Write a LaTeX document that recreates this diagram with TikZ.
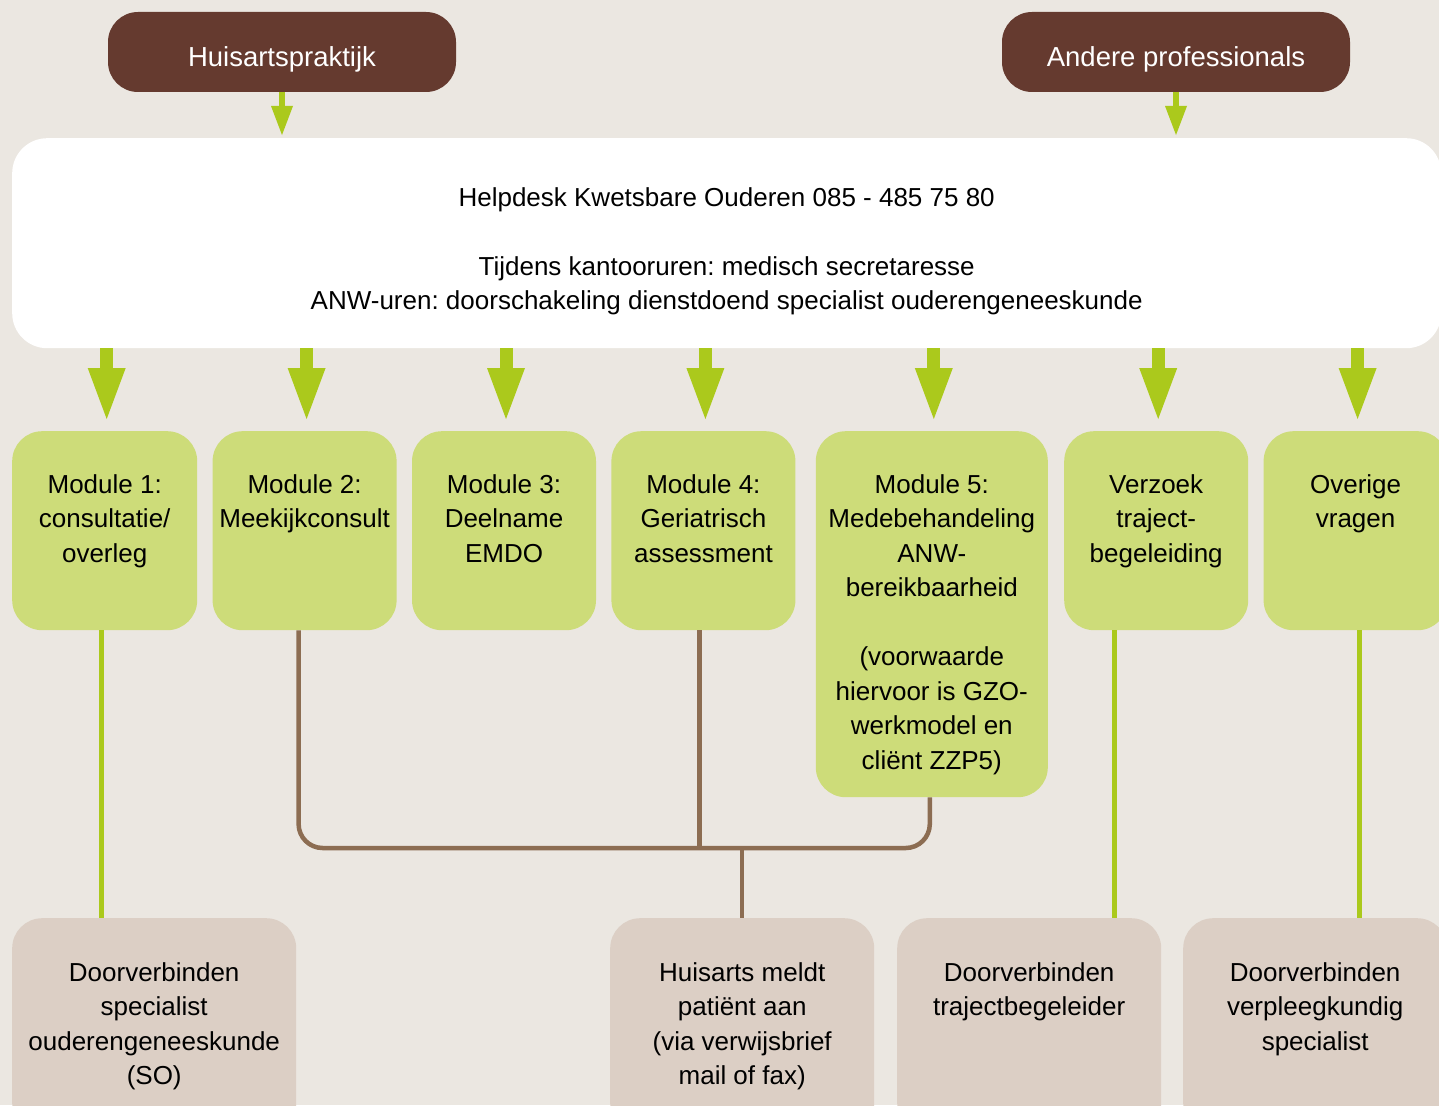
\documentclass[tikz,border=0pt]{standalone}
\usepackage{fontspec}
\setmainfont{Liberation Sans}
\frenchspacing
\usetikzlibrary{arrows.meta, positioning}
\definecolor{bgbeige}{HTML}{EBE7E1}
\definecolor{headbrown}{HTML}{653A2F}
\definecolor{modgreen}{HTML}{CDDC79}
\definecolor{outbeige}{HTML}{DCCFC5}
\definecolor{arrowgreen}{HTML}{ABC91C}
\definecolor{linebrown}{HTML}{8C6D52}
\tikzset{
	header/.style={
		rectangle,
		rounded corners=30pt,
		minimum width=348pt,
		minimum height=80pt,
		text height=35pt,
		text depth=5pt,
		fill=headbrown,
		text=white,
		font=\fontsize{27.5}{33}\selectfont
	},
	helpdesk/.style={
		rectangle,
		rounded corners=35pt,
		fill=white,
		inner sep=0pt,
		font=\fontsize{26}{34.5}\selectfont
	},
	module/.style={
		rectangle,
		rounded corners=30pt,
		fill=modgreen,
		inner sep=0pt,
		font=\fontsize{26}{34.5}\selectfont
	},
	outcome/.style={
		rectangle,
		rounded corners=30pt,
		fill=outbeige,
		inner sep=0pt,
		font=\fontsize{26}{34.5}\selectfont
	},
	smallarrow/.style={draw=arrowgreen, line width=6pt, -{Triangle[width=22pt, length=29pt, line width=0pt]}},
	bigarrow/.style={draw=arrowgreen, line width=13pt, -{Triangle[width=38pt, length=51pt, line width=0pt]}},
	greenline/.style={draw=arrowgreen, line width=5pt},
	brownline/.style={draw=linebrown, line width=4.5pt}
}
% width, height, top gap, lines
\newcommand{\boxtext}[4]{\parbox[c][#2][t]{#1}{\centering\vspace*{#3}\strut#4}}

\begin{document}
\begin{tikzpicture}[x=1pt, y=-1pt]
				\useasboundingbox (0,0) rectangle (1439,1105);
				\clip (0,0) rectangle (1439,1105);
				\fill[bgbeige] (0,0) rectangle (1439,1105);
				
				\node (huis) [header] at (282,52) {Huisartspraktijk};
				\node (andere) [header] at (1176,52) {Andere professionals};
				\node (help) [helpdesk, anchor=north west] at (12,138) {\boxtext{1429pt}{210pt}{44pt}{Helpdesk Kwetsbare Ouderen 085 - 485 75 80\\[34.5pt]Tijdens kantooruren: medisch secretaresse\\ANW-uren: doorschakeling dienstdoend specialist ouderengeneeskunde}};
				
				\node (m1) [module, anchor=north west] at (12,431) {\boxtext{185pt}{199pt}{38pt}{Module 1:\\consultatie/\\overleg}};
				\node (m2) [module, right=15pt of m1.north east, anchor=north west] {\boxtext{184pt}{199pt}{38pt}{Module 2:\\Meekijkconsult}};
				\node (m3) [module, right=15pt of m2.north east, anchor=north west] {\boxtext{184pt}{199pt}{38pt}{Module 3:\\Deelname\\EMDO}};
				\node (m4) [module, right=15pt of m3.north east, anchor=north west] {\boxtext{184pt}{199pt}{38pt}{Module 4:\\Geriatrisch\\assessment}};
				\node (m5) [module, right=20pt of m4.north east, anchor=north west] {\boxtext{232pt}{366pt}{38pt}{Module 5:\\Medebehandeling\\ANW-\\bereikbaarheid\\[34.5pt](voorwaarde\\hiervoor is GZO-\\werkmodel en\\cliënt ZZP5)}};
				\node (m6) [module, right=16pt of m5.north east, anchor=north west] {\boxtext{184pt}{199pt}{38pt}{Verzoek\\traject-\\begeleiding}};
				\node (m7) [module, right=15pt of m6.north east, anchor=north west] {\boxtext{184pt}{199pt}{38pt}{Overige\\vragen}};
				
				\node (b1) [outcome, anchor=north west] at (12,918) {\boxtext{284pt}{215pt}{39pt}{Doorverbinden\\specialist\\ouderengeneeskunde\\(SO)}};
				\node (b2) [outcome, anchor=north west] at (610,918) {\boxtext{264pt}{215pt}{39pt}{Huisarts meldt\\patiënt aan\\(via verwijsbrief\\mail of fax)}};
				\node (b3) [outcome, anchor=north west] at (897,918) {\boxtext{264pt}{215pt}{39pt}{Doorverbinden\\trajectbegeleider}};
				\node (b4) [outcome, anchor=north west] at (1183,918) {\boxtext{264pt}{215pt}{39pt}{Doorverbinden\\verpleegkundig\\specialist}};
				\coordinate (hub) at ([yshift=70pt]b2.north);
				
				\draw [smallarrow, shorten >=3pt] (huis.south) -- (huis.south |- help.north);
				\draw [smallarrow, shorten >=3pt] (andere.south) -- (andere.south |- help.north);
				\foreach \m in {m1,m2,m3,m4,m5,m6,m7}
					\draw [bigarrow, shorten >=12pt] ([xshift=2pt]\m.north |- help.south) -- ([xshift=2pt]\m.north);
				
				\draw [greenline] ([xshift=-3pt]m1.south) -- ([xshift=-3pt]m1.south |- b1.north);
				\draw [greenline] ([xshift=-42pt]m6.south) -- ([xshift=-42pt]m6.south |- b3.north);
				\draw [greenline] ([xshift=4pt]m7.south) -- ([xshift=4pt]m7.south |- b4.north);
				\draw [brownline, rounded corners=24pt] ([xshift=-6pt]m2.south) |- (hub) -| ([xshift=-2pt]m5.south);
				\draw [brownline] ([xshift=-4pt]m4.south) -- ([xshift=-4pt]m4.south |- hub);
				\draw [brownline] (hub) -- (b2.north);
			\end{tikzpicture}
\end{document}
